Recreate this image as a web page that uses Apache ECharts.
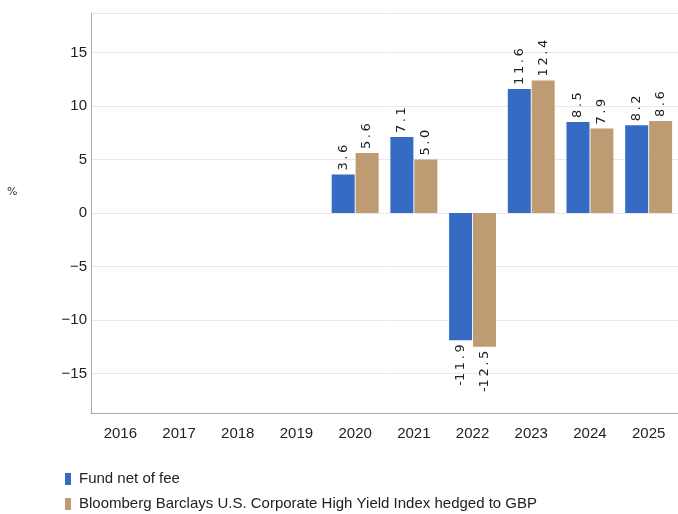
<!DOCTYPE html>
<html>
<head>
<meta charset="utf-8">
<script src="https://cdn.jsdelivr.net/npm/echarts@6/dist/echarts.min.js"></script>
<style>
  html, body { margin: 0; padding: 0; background: #fff; }
  #chart { width: 678px; height: 514px; }
</style>
</head>
<body>
<div id="chart"></div>
<script>
// years on the x axis
var years = ['2016', '2017', '2018', '2019', '2020', '2021', '2022', '2023', '2024', '2025'];
// annual returns, % (no data before 2020)
var fundNet = [null, null, null, null, 3.6, 7.1, -11.9, 11.6, 8.5, 8.2];
var benchmark = [null, null, null, null, 5.6, 5.0, -12.5, 12.4, 7.9, 8.6];
var seriesNames = ['Fund net of fee', 'Bloomberg Barclays U.S. Corporate High Yield Index hedged to GBP'];

var narrow = '"Liberation Sans Narrow", "Liberation Sans", sans-serif';
var labelFont = '"DejaVu Sans", Verdana, sans-serif';

// labels sit above positive bars and below negative ones
function withLabels(values) {
    return values.map(function (v) {
        if (v === null) return '-';
        if (v < 0) {
            return { value: v, label: { position: 'bottom', align: 'right', distance: 4 } };
        }
        return v;
    });
}

// the reference spreads the figures a little, thin spaces between characters
function spaced(p) {
    return p.value.toFixed(1).split('').join('\u2009').replace('-\u2009', '-');
}

function barLabel() {
    return {
        show: true, position: 'top', rotate: 90, align: 'left', verticalAlign: 'middle',
        distance: 4, fontFamily: labelFont, fontSize: 13, color: '#222',
        formatter: spaced
    };
}

var chart = echarts.init(document.getElementById('chart'));
chart.setOption({
    animation: false,
    grid: { left: 91, right: -7, top: 13, bottom: 101, containLabel: false },
    graphic: [{
        type: 'text', left: 7, top: 187,
        style: { text: '%', font: '11px "DejaVu Sans", Verdana, sans-serif', fill: '#333' }
    }],
    legend: {
        orient: 'vertical', left: 65, top: 471, padding: 0,
        itemWidth: 6, itemHeight: 12, itemGap: 9,
        icon: 'rect',
        textStyle: { fontFamily: narrow, fontSize: 15, lineHeight: 16, color: '#222', padding: [0, 0, 0, 3] },
        data: seriesNames
    },
    xAxis: {
        type: 'category',
        data: years,
        axisLine: { onZero: false, lineStyle: { color: '#aaa' } },
        axisTick: { show: false },
        axisLabel: { fontFamily: narrow, fontSize: 15, color: '#222', margin: 13 }
    },
    yAxis: {
        type: 'value',
        min: -18.7,
        max: 18.7,
        splitNumber: 8,
        axisLine: { show: true, lineStyle: { color: '#aaa' } },
        axisTick: { show: false },
        splitLine: { lineStyle: { color: '#e8e8ee' } },
        axisLabel: {
            showMinLabel: false, showMaxLabel: false,
            fontFamily: narrow, fontSize: 15, color: '#222', margin: 4,
            formatter: function (v) { return String(v).replace('-', '\u2212'); }
        }
    },
    series: [
        {
            name: seriesNames[0], type: 'bar',
            data: withLabels(fundNet),
            barWidth: 23, barGap: '4%',
            itemStyle: { color: '#366BC4' },
            label: barLabel()
        },
        {
            name: seriesNames[1], type: 'bar',
            data: withLabels(benchmark),
            barWidth: 23, barGap: '4%',
            itemStyle: { color: '#BF9B74' },
            label: barLabel()
        }
    ]
});
</script>
</body>
</html>
